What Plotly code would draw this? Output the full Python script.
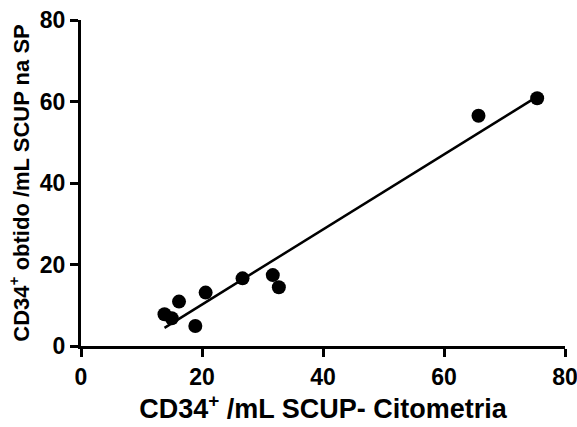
import numpy as np
import plotly.graph_objects as go

# CD34+ counts: flow cytometry (x) vs. obtained in peripheral blood (y)
citometria = [13.8, 15.0, 16.2, 18.9, 20.6, 26.7, 31.7, 32.7, 65.7, 75.4]
obtido_sp = [7.8, 6.8, 10.9, 4.9, 13.1, 16.6, 17.4, 14.4, 56.5, 60.8]
tick_vals = [0, 20, 40, 60, 80]

# Linear regression over the observed range
slope, intercept = np.polyfit(citometria, obtido_sp, 1)
fit_x = [min(citometria), max(citometria)]
fit_y = [slope * v + intercept for v in fit_x]

font_family = "Arial"

fig = go.Figure()
fig.add_trace(go.Scatter(
    x=fit_x, y=fit_y, mode="lines",
    line=dict(color="black", width=2.5),
    showlegend=False, hoverinfo="skip",
))
fig.add_trace(go.Scatter(
    x=citometria, y=obtido_sp, mode="markers",
    marker=dict(color="black", size=14, line=dict(width=0)),
    showlegend=False,
))

axis_common = dict(
    range=[0, 80],
    tickvals=tick_vals,
    ticktext=[f"<b>{v}</b>" for v in tick_vals],
    showgrid=False,
    zeroline=False,
    showline=True,
    linecolor="black",
    linewidth=3,
    ticks="outside",
    ticklen=8,
    tickwidth=2.5,
    tickcolor="black",
    ticklabeloverflow="allow",
    automargin=False,
    tickfont=dict(family=font_family, size=23, color="black"),
)

fig.update_layout(
    width=577, height=427,
    margin=dict(l=81, r=12, t=20, b=81),
    paper_bgcolor="white",
    plot_bgcolor="white",
    font=dict(family=font_family, color="black"),
    xaxis=dict(
        **axis_common,
        title=dict(text="<b>CD34<sup>+</sup> /mL SCUP- Citometria</b>",
                   font=dict(family=font_family, size=27, color="black"),
                   standoff=2),
    ),
    yaxis=dict(
        **axis_common,
        title=dict(text="<b>CD34<sup>+</sup> obtido /mL SCUP na SP</b>",
                   font=dict(family=font_family, size=22, color="black"),
                   standoff=5),
    ),
)

fig.write_html("out.html")
